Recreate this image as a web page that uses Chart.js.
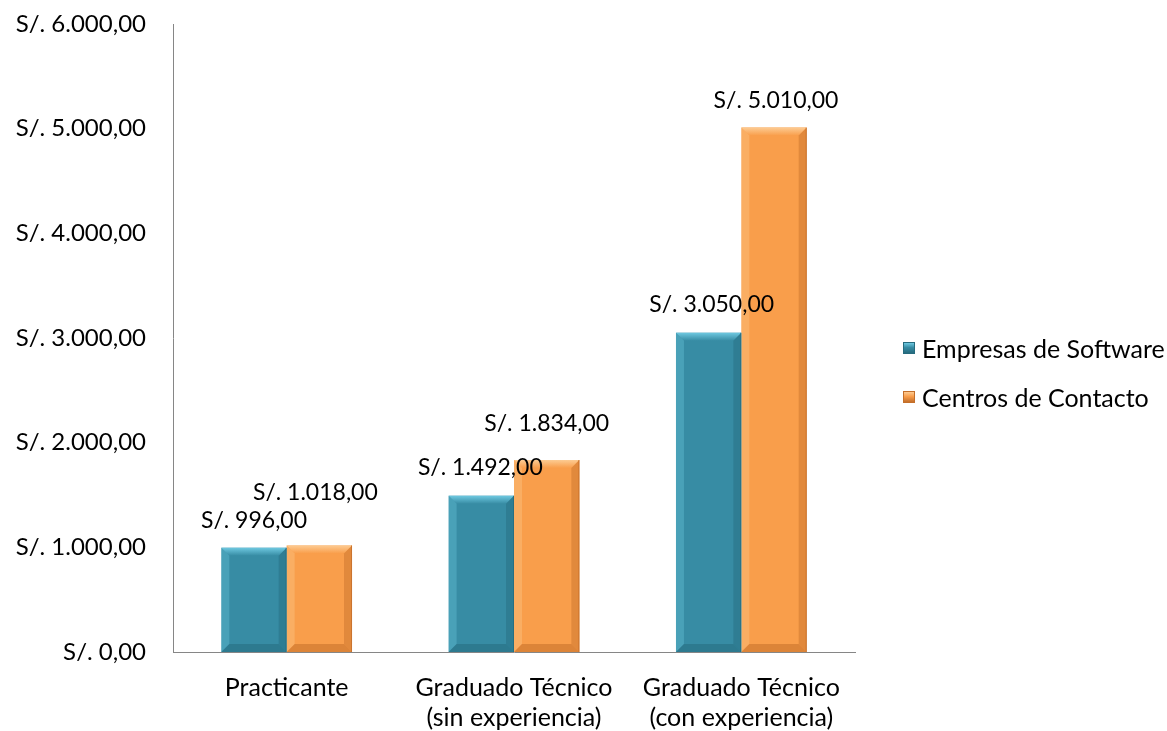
<!DOCTYPE html>
<html>
<head>
<meta charset="utf-8">
<script src="https://cdn.jsdelivr.net/npm/chart.js@4.4.1/dist/chart.umd.min.js"></script>
<style>
    body { margin: 0; background: #fff; font-family: Lato, sans-serif; }
    #wrap { position: relative; width: 1167px; height: 731px; }
    #legend { position: absolute; left: 903px; top: 332px; }
    .leg-item { display: flex; align-items: center; height: 32px; margin-bottom: 17px; font-size: 25px; color: #000; }
    .leg-box { width: 12px; height: 12px; margin-right: 7px; box-sizing: border-box; }
</style>
</head>
<body>
<div id="wrap">
    <canvas id="bar-chart" width="1167" height="731"></canvas>
    <div id="legend"></div>
</div>
<script>
let categories = [
    "Practicante",
    ["Graduado Técnico", "(sin experiencia)"],
    ["Graduado Técnico", "(con experiencia)"],
];
let seriesNames = ["Empresas de Software", "Centros de Contacto"];
let software = [996, 1492, 3050];
let contacto = [1018, 1834, 5010];
let yTicks = [0, 1000, 2000, 3000, 4000, 5000, 6000];

let barColors = ["#378CA4", "#F99E4B"];
let lightColors = ["#6EC8E0", "#FDCB92"];
let darkColors = ["#266B7E", "#C46F2A"];

// manual label shifts (px) like the original chart
let labelShift = [
    [[0, -27], [-1, -28], [3, -28]],
    [[-4, -53], [0, -36], [2, -27]],
];

function money(v) {
    let parts = v.toFixed(2).split(".");
    let int = parts[0].replace(/\B(?=(\d{3})+(?!\d))/g, ".");
    return "S/. " + int + "," + parts[1];
}

const font = { family: "Lato, sans-serif", size: 24 };
const catFont = { family: "Lato, sans-serif", size: 25, lineHeight: 1.2 };

const bevelPlugin = {
    id: "bevel",
    afterDatasetsDraw(chart) {
        const ctx = chart.ctx;
        chart.data.datasets.forEach((ds, di) => {
            chart.getDatasetMeta(di).data.forEach((bar) => {
                const p = bar.getProps(["x", "y", "base", "width"], true);
                const x0 = p.x - p.width / 2, x1 = p.x + p.width / 2;
                const y0 = p.y, y1 = p.base;
                const b = 8;
                ctx.save();
                // top
                let g = ctx.createLinearGradient(0, y0, 0, y0 + b);
                g.addColorStop(0, lightColors[di]);
                g.addColorStop(1, barColors[di]);
                ctx.fillStyle = g;
                ctx.beginPath();
                ctx.moveTo(x0, y0); ctx.lineTo(x1, y0); ctx.lineTo(x1 - b, y0 + b); ctx.lineTo(x0 + b, y0 + b);
                ctx.closePath(); ctx.fill();
                // left
                ctx.globalAlpha = 0.35;
                ctx.fillStyle = lightColors[di];
                ctx.beginPath();
                ctx.moveTo(x0, y0); ctx.lineTo(x0 + b, y0 + b); ctx.lineTo(x0 + b, y1 - b); ctx.lineTo(x0, y1);
                ctx.closePath(); ctx.fill();
                // right
                ctx.globalAlpha = 0.45;
                ctx.fillStyle = darkColors[di];
                ctx.beginPath();
                ctx.moveTo(x1, y0); ctx.lineTo(x1 - b, y0 + b); ctx.lineTo(x1 - b, y1 - b); ctx.lineTo(x1, y1);
                ctx.closePath(); ctx.fill();
                // bottom
                ctx.globalAlpha = 0.55;
                ctx.beginPath();
                ctx.moveTo(x0, y1); ctx.lineTo(x0 + b, y1 - b); ctx.lineTo(x1 - b, y1 - b); ctx.lineTo(x1, y1);
                ctx.closePath(); ctx.fill();
                // edge line
                ctx.globalAlpha = 0.8;
                ctx.strokeStyle = darkColors[di];
                ctx.lineWidth = 1;
                ctx.beginPath();
                ctx.moveTo(x1 - 0.5, y0); ctx.lineTo(x1 - 0.5, y1);
                ctx.stroke();
                ctx.restore();
            });
        });
    },
};

const labelPlugin = {
    id: "valueLabels",
    afterDraw(chart) {
        const ctx = chart.ctx;
        ctx.save();
        ctx.font = "23px " + font.family;
        ctx.fillStyle = "#000";
        ctx.textAlign = "center";
        ctx.textBaseline = "middle";
        chart.data.datasets.forEach((ds, di) => {
            chart.getDatasetMeta(di).data.forEach((bar, i) => {
                const s = labelShift[di][i];
                ctx.fillText(money(ds.data[i]), bar.x + s[0], bar.y + s[1]);
            });
        });
        ctx.restore();
    },
};

new Chart(document.getElementById("bar-chart"), {
    type: "bar",
    data: {
        labels: categories,
        datasets: [
            { label: seriesNames[0], data: software, backgroundColor: barColors[0] },
            { label: seriesNames[1], data: contacto, backgroundColor: barColors[1] },
        ],
    },
    options: {
        responsive: false,
        animation: false,
        layout: { padding: { left: 0, right: 312, top: 0, bottom: 0 } },
        datasets: { bar: { barPercentage: 1, categoryPercentage: 0.575 } },
        plugins: { legend: { display: false }, tooltip: { enabled: false } },
        scales: {
            x: {
                grid: { display: false, drawTicks: false },
                border: { display: true, color: "#868686", width: 1 },
                ticks: { color: "#000", font: catFont, padding: 21, maxRotation: 0, autoSkip: false },
                afterFit: (s) => { s.height = 79; },
            },
            y: {
                min: yTicks[0],
                max: yTicks[yTicks.length - 1],
                afterBuildTicks: (axis) => { axis.ticks = yTicks.map((v) => ({ value: v })); },
                grid: { display: false, drawTicks: false },
                border: { display: true, color: "#868686", width: 1 },
                ticks: { color: "#000", font: font, padding: 27, callback: (v) => money(v) },
                afterFit: (s) => { s.width = 173; s.paddingTop = 24; s.paddingBottom = 10; },
            },
        },
    },
    plugins: [bevelPlugin, labelPlugin],
});

const legend = document.getElementById("legend");
seriesNames.forEach((name, i) => {
    let item = document.createElement("div");
    item.className = "leg-item";
    let box = document.createElement("div");
    box.className = "leg-box";
    box.style.background = "linear-gradient(180deg, " + lightColors[i] + " 0%, " + barColors[i] + " 45%, " + darkColors[i] + " 100%)";
    box.style.border = "1px solid " + darkColors[i];
    let text = document.createElement("span");
    text.innerHTML = name;
    item.appendChild(box);
    item.appendChild(text);
    legend.appendChild(item);
});
</script>
</body>
</html>
